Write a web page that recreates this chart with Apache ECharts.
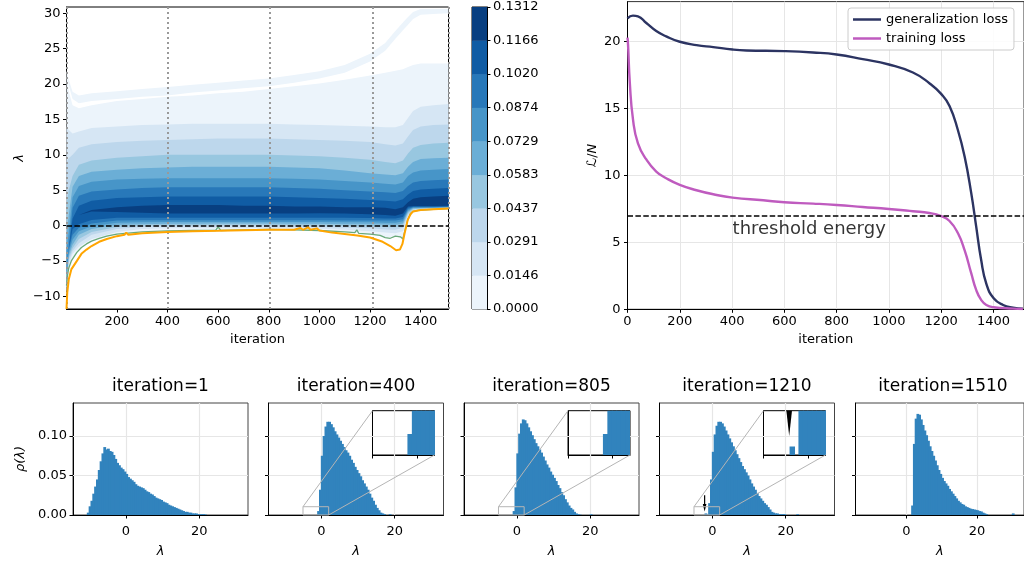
<!DOCTYPE html>
<html>
<head>
<meta charset="utf-8">
<title>spectrum during training</title>
<script src="https://cdn.jsdelivr.net/npm/echarts@6.0.0/dist/echarts.min.js"></script>
<style>
html, body { margin: 0; padding: 0; background: #fff; }
#chart { width: 1024px; height: 563px; }
</style>
</head>
<body>
<div id="chart"></div>
<script>
const FONT = 'DejaVu Sans'

// ---- top left: density of the spectrum vs iteration, as nested contour bands ----
const IT = [1, 10, 25, 50, 100, 200, 300, 400, 500, 600, 700, 800, 900, 1000, 1100, 1200, 1260, 1300, 1330, 1350, 1370, 1400, 1450, 1510]
const LO0 = [-10, -6.0, -4.6, -3.4, -2.2, -1.2, -0.9, -0.75, -0.7, -0.65, -0.6, -0.55, -0.6, -0.7, -0.9, -1.2, -1.7, -1.5, -1.9, 0.9, 2.0, 2.2, 2.3, 2.4]
const HI0 = [22.0, 19.0, 17.0, 16.6, 17.0, 17.6, 17.9, 18.2, 18.4, 18.7, 18.9, 19.3, 19.7, 20.1, 20.6, 21.2, 21.6, 21.9, 22.1, 22.4, 22.7, 22.9, 22.9, 22.9]
const STRIP_LO = [22.0, 19.8, 17.9, 17.3, 17.6, 17.9, 18.2, 18.4, 18.8, 19.1, 19.4, 19.7, 20.2, 20.8, 21.6, 23.2, 24.7, 26.4, 27.6, 28.4, 29.2, 29.8, 29.9, 30.0]
const STRIP_HI = [22.0, 20.6, 18.9, 18.4, 18.7, 19.0, 19.3, 19.6, 19.9, 20.2, 20.5, 20.8, 21.3, 21.8, 22.7, 24.3, 25.8, 27.5, 28.7, 29.5, 30.2, 30.6, 30.6, 30.6]
const LO1 = [-9.5, -5.5, -4.0, -3.0, -1.9, -0.9, -0.5, -0.4, -0.4, -0.4, -0.35, -0.35, -0.4, -0.45, -0.6, -0.8, -1.0, -1.1, -0.8, 1.2, 2.1, 2.3, 2.35, 2.45]
const HI1 = [14.0, 13.5, 13.0, 13.3, 13.8, 14.0, 14.2, 14.3, 14.4, 14.4, 14.4, 14.4, 14.3, 14.2, 14.1, 14.0, 13.9, 13.9, 14.2, 15.2, 16.2, 16.8, 17.0, 17.2]
const LO2 = [-9.0, -5.0, -3.6, -2.5, -1.3, -0.5, -0.2, -0.15, -0.15, -0.1, -0.1, -0.1, -0.15, -0.2, -0.3, -0.4, -0.55, -0.6, -0.3, 1.5, 2.2, 2.35, 2.4, 2.5]
const HI2 = [9.0, 9.5, 10.0, 11.0, 11.5, 11.8, 12.0, 12.1, 12.2, 12.3, 12.3, 12.3, 12.2, 12.1, 12.0, 11.8, 11.5, 11.3, 11.6, 12.6, 13.5, 14.0, 14.2, 14.3]
const LO3 = [-8.5, -4.6, -3.2, -1.9, -0.9, -0.2, 0.0, 0.05, 0.05, 0.1, 0.1, 0.1, 0.05, 0.0, -0.05, -0.1, -0.2, -0.25, 0.0, 1.7, 2.3, 2.4, 2.45, 2.55]
const HI3 = [3.0, 5.0, 7.0, 8.6, 9.2, 9.6, 9.8, 10.0, 10.0, 10.0, 10.0, 10.0, 9.9, 9.8, 9.6, 9.3, 9.0, 8.8, 9.2, 10.2, 11.0, 11.4, 11.6, 11.7]
const LO4 = [-8.0, -4.2, -2.7, -1.3, -0.5, 0.1, 0.2, 0.25, 0.25, 0.3, 0.3, 0.3, 0.25, 0.25, 0.2, 0.2, 0.15, 0.1, 0.3, 1.9, 2.4, 2.45, 2.5, 2.55]
const HI4 = [-1.5, 1.5, 5.5, 7.0, 7.6, 7.9, 8.1, 8.2, 8.3, 8.3, 8.3, 8.3, 8.2, 8.1, 7.8, 7.4, 7.2, 7.1, 7.4, 8.3, 9.0, 9.4, 9.5, 9.6]
const LO5 = [-7.0, -3.8, -2.0, -0.8, -0.1, 0.4, 0.45, 0.5, 0.5, 0.5, 0.5, 0.5, 0.5, 0.5, 0.45, 0.45, 0.4, 0.4, 0.6, 2.1, 2.5, 2.5, 2.55, 2.6]
const HI5 = [-3.5, -1.0, 4.0, 5.6, 6.2, 6.5, 6.6, 6.7, 6.7, 6.7, 6.7, 6.7, 6.6, 6.5, 6.3, 6.1, 5.9, 5.8, 6.1, 7.0, 7.5, 7.8, 7.9, 8.0]
const LO6 = [-5.5, -3.4, -1.3, -0.3, 0.3, 0.7, 0.75, 0.75, 0.75, 0.75, 0.75, 0.75, 0.75, 0.75, 0.7, 0.7, 0.7, 0.7, 0.9, 2.3, 2.6, 2.6, 2.6, 2.65]
const HI6 = [-5.5, -3.0, 2.5, 4.2, 4.8, 5.1, 5.3, 5.4, 5.4, 5.4, 5.4, 5.4, 5.3, 5.2, 5.0, 4.8, 4.7, 4.6, 4.9, 5.6, 6.1, 6.3, 6.4, 6.5]
const LO7 = [-5.5, -3.2, -0.5, 0.2, 0.8, 1.1, 1.1, 1.1, 1.1, 1.1, 1.1, 1.1, 1.1, 1.1, 1.1, 1.05, 1.0, 1.0, 1.2, 2.5, 2.65, 2.65, 2.65, 2.7]
const HI7 = [-5.5, -3.2, 1.0, 2.8, 3.5, 3.9, 4.0, 4.1, 4.1, 4.1, 4.1, 4.1, 4.0, 3.9, 3.8, 3.6, 3.5, 3.4, 3.7, 4.4, 4.9, 5.1, 5.2, 5.3]
const LO8 = [-5.5, -3.2, 0.0, 1.5, 2.0, 1.9, 1.8, 1.7, 1.7, 1.7, 1.7, 1.7, 1.7, 1.75, 1.7, 1.6, 1.5, 1.4, 1.7, 2.7, 2.75, 2.75, 2.75, 2.8]
const HI8 = [-5.5, -3.2, 0.0, 1.5, 2.2, 2.6, 2.8, 2.9, 2.9, 2.9, 2.8, 2.8, 2.7, 2.7, 2.6, 2.6, 2.5, 2.3, 2.6, 3.3, 3.8, 4.0, 4.1, 4.2]

const ORANGE_IT = [1, 4, 10, 20, 42, 60, 80, 100, 130, 160, 200, 230, 237, 245, 300, 400, 500, 600, 700, 800, 900, 925, 935, 955, 965, 990, 1000, 1050, 1100, 1150, 1200, 1250, 1280, 1303, 1318, 1328, 1336, 1349, 1360, 1370, 1400, 1450, 1510]
const ORANGE = [-11.8, -9.5, -7.6, -6.2, -5.0, -4.0, -3.4, -2.9, -2.3, -1.9, -1.5, -1.3, -1.0, -1.3, -1.1, -0.9, -0.8, -0.75, -0.65, -0.6, -0.6, -0.35, -0.6, -0.25, -0.6, -0.4, -0.7, -1.0, -1.2, -1.4, -1.7, -2.3, -2.9, -3.5, -3.4, -2.6, -1.2, 0.8, 1.6, 2.0, 2.2, 2.3, 2.4]
const GREEN_IT = [1, 5, 10, 20, 42, 60, 80, 100, 130, 160, 200, 300, 400, 500, 590, 600, 610, 700, 800, 900, 1000, 1100, 1140, 1148, 1155, 1200, 1240, 1260, 1280, 1300, 1320, 1330, 1336, 1349, 1360, 1370, 1400, 1450, 1510]
const GREEN = [-8.5, -7.0, -6.0, -5.0, -3.8, -3.1, -2.6, -2.2, -1.8, -1.5, -1.2, -0.9, -0.75, -0.7, -0.7, -0.2, -0.7, -0.6, -0.55, -0.6, -0.7, -0.9, -1.0, -0.6, -1.1, -1.2, -1.4, -1.7, -1.8, -1.5, -1.6, -1.9, -1.0, 0.8, 1.7, 2.0, 2.2, 2.3, 2.4]
const MARK_IT = [1, 400, 805, 1210, 1510]
const CONTOUR_X_TICKS = [200, 400, 600, 800, 1000, 1200, 1400]
const CONTOUR_Y_TICKS = [-10, -5, 0, 5, 10, 15, 20, 25, 30]

const CBAR_TICKS = ['0.0000', '0.0146', '0.0291', '0.0437', '0.0583', '0.0729', '0.0874', '0.1020', '0.1166', '0.1312']
const BAND_COLORS = ['#ecf4fb', '#d6e6f4', '#bdd7ec', '#98c7e0', '#6baed6', '#4795c8', '#2878b9', '#105ca4', '#083f81']

// ---- top right: losses ----
const GEN_IT = [0, 21, 40, 72, 110, 148, 200, 264, 328, 402, 455, 600, 710, 800, 900, 1000, 1092, 1155, 1200, 1232, 1264, 1290, 1315, 1334, 1353, 1373, 1401, 1437, 1475, 1513]
const GEN_LOSS = [21.75, 21.95, 21.9, 21.4, 20.8, 20.4, 20.0, 19.75, 19.6, 19.42, 19.35, 19.3, 19.2, 19.05, 18.7, 18.3, 17.7, 16.9, 16.1, 15.2, 13.4, 11.4, 8.7, 6.2, 3.7, 1.9, 0.82, 0.32, 0.12, 0.05]
const TRAIN_IT = [0, 2, 9, 21, 40, 72, 110, 148, 200, 264, 328, 402, 519, 600, 710, 800, 900, 1000, 1092, 1155, 1200, 1232, 1264, 1290, 1315, 1334, 1353, 1373, 1401, 1475, 1513]
const TRAIN_LOSS = [20.3, 19.8, 16.9, 14.2, 12.4, 11.2, 10.3, 9.8, 9.3, 8.9, 8.6, 8.35, 8.15, 8.0, 7.9, 7.8, 7.65, 7.5, 7.33, 7.2, 6.97, 6.6, 5.7, 4.4, 2.7, 1.45, 0.7, 0.32, 0.15, 0.05, 0.02]
const THRESHOLD = 7
const THRESHOLD_TEXT_AT = [402, 6.0]
const LOSS_X_TICKS = [0, 200, 400, 600, 800, 1000, 1200, 1400]
const LOSS_Y_TICKS = [0, 5, 10, 15, 20]

// ---- bottom: histograms of the spectrum ----
const BIN_W = 0.5
const HIST_TITLES = ['iteration=1', 'iteration=400', 'iteration=805', 'iteration=1210', 'iteration=1510']
const H1_START = -10.5
const H1 = [0.003, 0.011, 0.018, 0.027, 0.036, 0.045, 0.057, 0.068, 0.078, 0.086,
  0.083, 0.084, 0.081, 0.080, 0.076, 0.071, 0.066, 0.063, 0.060, 0.058,
  0.055, 0.052, 0.048, 0.046, 0.044, 0.042, 0.039, 0.037, 0.036, 0.035,
  0.034, 0.032, 0.030, 0.029, 0.027, 0.026, 0.024, 0.022, 0.021, 0.020,
  0.019, 0.017, 0.016, 0.015, 0.013, 0.012, 0.011, 0.010, 0.009, 0.008,
  0.007, 0.006, 0.005, 0.004, 0.004, 0.003, 0.003, 0.002, 0.002, 0.002,
  0.001, 0.001, 0.001, 0.001, 0.0005]
const H2_START = -1.0
const H2 = [0.005, 0.032, 0.075, 0.100, 0.112, 0.118, 0.118, 0.115, 0.111, 0.106,
  0.102, 0.098, 0.094, 0.090, 0.086, 0.082, 0.079, 0.075, 0.070, 0.066,
  0.061, 0.057, 0.053, 0.049, 0.044, 0.040, 0.036, 0.032, 0.027, 0.022,
  0.018, 0.013, 0.009, 0.006, 0.003, 0.002, 0.001, 0, 0, 0.001]
const H3_START = -1.0
const H3 = [0.005, 0.035, 0.078, 0.103, 0.116, 0.121, 0.120, 0.116, 0.111, 0.106,
  0.101, 0.096, 0.091, 0.087, 0.083, 0.079, 0.074, 0.069, 0.064, 0.060,
  0.055, 0.051, 0.047, 0.043, 0.038, 0.034, 0.029, 0.025, 0.020, 0.016,
  0.012, 0.009, 0.007, 0.004, 0.002, 0.001, 0.0005, 0, 0, 0,
  0, 0, 0.001]
const H4_START = -2.0
const H4 = [0.002, 0, 0.015, 0.045, 0.080, 0.102, 0.113, 0.118, 0.118, 0.116,
  0.112, 0.107, 0.102, 0.097, 0.092, 0.087, 0.082, 0.077, 0.072, 0.067,
  0.062, 0.058, 0.054, 0.050, 0.045, 0.040, 0.036, 0.032, 0.028, 0.024,
  0.021, 0.018, 0.015, 0.013, 0.010, 0.007, 0.004, 0.003, 0.002, 0.002,
  0.001, 0.001, 0.001, 0.001, 0, 0, 0, 0, 0, 0,
  0.001]
const H5_START = 1.5
const H5 = [0.012, 0.090, 0.122, 0.128, 0.127, 0.121, 0.114, 0.107, 0.101, 0.094,
  0.087, 0.081, 0.075, 0.069, 0.063, 0.057, 0.052, 0.047, 0.043, 0.040,
  0.037, 0.033, 0.030, 0.027, 0.024, 0.021, 0.018, 0.016, 0.014, 0.013,
  0.011, 0.010, 0.009, 0.008, 0.0075, 0.007, 0.0065, 0.006, 0.005, 0.0045,
  0.003, 0.002, 0.001, 0, 0, 0, 0, 0, 0, 0,
  0, 0, 0, 0, 0, 0, 0, 0.002]
const HIST_GRID_X = [0, 20]
const HIST_GRID_Y = [0.05, 0.1]
const HIST_Y_TICKS = [0, 0.05, 0.1]
const INSET_X_TICKS = [-5, 0]
const INSET_RANGE_X = [-5, 2]
const INSET_RANGE_Y = [0, 0.0105]
const ARROW_LAMBDA = -2.1
const ARROW_FROM = 0.025
const ARROW_TO = 0.0045
const ARROW_HEAD_W = 1.0
const ARROW_HEAD_L = 0.0095

// ---------------------------------------------------------------
const BAR_COLOR = '#3183bd'
const HIST_LEFT = [73, 268.5, 464, 659.5, 855.5]
const INSET_OF = [null, 0, 1, 2, null]   // which inset grid belongs to each histogram
const hists = [[H1_START, H1], [H2_START, H2], [H3_START, H3], [H4_START, H4], [H5_START, H5]]

const txt = (size) => ({ fontFamily: FONT, fontSize: size || 13, color: '#000' })
const plain = (v) => String(v).replace('-', '\u2212')

const grid = [
  { left: 66.5, top: 7, width: 382, height: 302, show: true, borderColor: '#000', borderWidth: 1, backgroundColor: 'transparent' },
  { left: 472, top: 7, width: 15, height: 302, show: true, borderColor: '#000', borderWidth: 1, backgroundColor: 'transparent' },
  { left: 627.5, top: 1.6, width: 397, height: 307.7, show: true, borderColor: '#333', borderWidth: 1, backgroundColor: 'transparent' }
]
HIST_LEFT.forEach(l => grid.push({ left: l, top: 403, width: 175, height: 112, show: true, borderColor: '#444', borderWidth: 1, backgroundColor: 'transparent' }))
;[1, 2, 3].forEach(i => grid.push({ left: HIST_LEFT[i] + 104, top: 410.7, width: 62, height: 44.3, show: true, borderColor: '#000', borderWidth: 1, backgroundColor: '#fff' }))

const blackLine = { show: true, onZero: false, lineStyle: { color: '#000', width: 1 } }
const tick = (vals) => ({ show: true, length: 3.5, lineStyle: { color: '#000' }, customValues: vals })

const xAxis = [
  { gridIndex: 0, type: 'value', min: 1, max: 1510, axisLine: blackLine, axisTick: tick(CONTOUR_X_TICKS),
    axisLabel: Object.assign({ customValues: CONTOUR_X_TICKS, margin: 6, formatter: plain }, txt()), splitLine: { show: false },
    name: 'iteration', nameLocation: 'middle', nameGap: 24, nameTextStyle: txt() },
  { gridIndex: 1, type: 'value', min: 0, max: 1, show: false },
  { gridIndex: 2, type: 'value', min: 0, max: 1517, interval: 200, axisLine: blackLine, axisTick: tick(LOSS_X_TICKS),
    axisLabel: Object.assign({ customValues: LOSS_X_TICKS, margin: 6, formatter: plain }, txt()),
    splitLine: { show: true, lineStyle: { color: '#e6e6e6', width: 1 } },
    name: 'iteration', nameLocation: 'middle', nameGap: 24, nameTextStyle: txt() }
]
const yAxis = [
  { gridIndex: 0, type: 'value', min: -11.8, max: 30.9, axisLine: blackLine, axisTick: tick(CONTOUR_Y_TICKS),
    axisLabel: Object.assign({ customValues: CONTOUR_Y_TICKS, margin: 6, formatter: plain }, txt()), splitLine: { show: false },
    name: 'λ', nameLocation: 'middle', nameGap: 40, nameRotate: 90, nameTextStyle: Object.assign({ fontStyle: 'italic' }, txt()) },
  { gridIndex: 1, type: 'value', position: 'right', min: 0, max: 9, interval: 1, axisLine: blackLine,
    axisTick: { show: true, length: 3.5, lineStyle: { color: '#000' } },
    axisLabel: Object.assign({ margin: 6, formatter: (v) => CBAR_TICKS[v] }, txt()), splitLine: { show: false } },
  { gridIndex: 2, type: 'value', min: 0, max: 23, interval: 5, axisLine: blackLine, axisTick: tick(LOSS_Y_TICKS),
    axisLabel: Object.assign({ customValues: LOSS_Y_TICKS, margin: 7, formatter: plain }, txt()),
    splitLine: { show: true, lineStyle: { color: '#e6e6e6', width: 1 } },
    name: '{s|ℒ}/{i|N}', nameLocation: 'middle', nameGap: 28, nameRotate: 90,
    nameTextStyle: Object.assign({ rich: { s: txt(), i: Object.assign({ fontStyle: 'italic' }, txt()) } }, txt()) }
]
HIST_LEFT.forEach((l, i) => {
  const g = 3 + i
  xAxis.push({ gridIndex: g, type: 'value', min: -14.4, max: 33.3, axisLine: blackLine, axisTick: tick(HIST_GRID_X),
    axisLabel: Object.assign({ customValues: HIST_GRID_X, margin: 10, formatter: plain }, txt()), splitLine: { show: false },
    name: 'λ', nameLocation: 'middle', nameGap: 30, nameTextStyle: Object.assign({ fontStyle: 'italic' }, txt()) })
  const y = { gridIndex: g, type: 'value', min: 0, max: 0.1418, axisLine: blackLine, axisTick: tick(HIST_Y_TICKS),
    axisLabel: Object.assign({ show: i === 0, customValues: HIST_Y_TICKS, margin: 6, formatter: (v) => v.toFixed(2) }, txt()),
    splitLine: { show: false } }
  if (i === 0) Object.assign(y, { name: 'ρ(λ)', nameLocation: 'middle', nameGap: 46, nameRotate: 90, nameTextStyle: Object.assign({ fontStyle: 'italic' }, txt()) })
  yAxis.push(y)
})
;[0, 1, 2].forEach(j => {
  const g = 8 + j
  xAxis.push({ gridIndex: g, type: 'value', min: INSET_RANGE_X[0], max: INSET_RANGE_X[1], axisLine: blackLine,
    axisTick: tick(INSET_X_TICKS), axisLabel: { show: false }, splitLine: { show: false } })
  yAxis.push({ gridIndex: g, type: 'value', min: INSET_RANGE_Y[0], max: INSET_RANGE_Y[1], axisLine: blackLine,
    axisTick: { show: false }, axisLabel: { show: false }, splitLine: { show: false } })
})

// ---- series ----
function bandSeries(lo, hi, color) {
  return {
    type: 'custom', xAxisIndex: 0, yAxisIndex: 0, clip: true, silent: true, z: 2,
    data: IT.map((t, i) => [t, lo[i], hi[i]]),
    renderItem: (params, api) => {
      if (params.dataIndex !== 0) return null
      const pts = []
      for (let i = 0; i < IT.length; i++) pts.push(api.coord([IT[i], hi[i]]))
      for (let i = IT.length - 1; i >= 0; i--) pts.push(api.coord([IT[i], lo[i]]))
      return { type: 'polygon', shape: { points: pts }, style: { fill: color } }
    }
  }
}

const series = []
const LOS = [LO0, LO1, LO2, LO3, LO4, LO5, LO6, LO7, LO8]
const HIS = [HI0, HI1, HI2, HI3, HI4, HI5, HI6, HI7, HI8]
series.push(bandSeries(STRIP_LO, STRIP_HI, BAND_COLORS[0]))
LOS.forEach((lo, k) => series.push(bandSeries(lo, HIS[k], BAND_COLORS[k])))

series.push({ type: 'line', xAxisIndex: 0, yAxisIndex: 0, silent: true, z: 4, showSymbol: false,
  data: GREEN_IT.map((t, i) => [t, GREEN[i]]), lineStyle: { color: '#6aa97a', width: 1.3 } })
series.push({ type: 'line', xAxisIndex: 0, yAxisIndex: 0, silent: true, z: 5, showSymbol: false,
  data: ORANGE_IT.map((t, i) => [t, ORANGE[i]]), lineStyle: { color: '#ffa500', width: 2 } })
series.push({ type: 'line', xAxisIndex: 0, yAxisIndex: 0, silent: true, z: 6, data: [],
  markLine: { silent: true, symbol: 'none', label: { show: false }, animation: false,
    data: MARK_IT.map(v => ({ xAxis: v, lineStyle: { color: '#999', width: 2, type: [2, 3] } }))
      .concat([{ yAxis: 0, lineStyle: { color: '#000', width: 1.5, type: [5.5, 2.4] } }]) } })

// colour bar
series.push({ type: 'custom', xAxisIndex: 1, yAxisIndex: 1, silent: true,
  data: BAND_COLORS.map((c, i) => [i]),
  renderItem: (params, api) => {
    const i = api.value(0)
    const a = api.coord([0, i + 1]), b = api.coord([1, i])
    return { type: 'rect', shape: { x: a[0], y: a[1], width: b[0] - a[0], height: b[1] - a[1] + 0.3 }, style: { fill: BAND_COLORS[i] } }
  } })

// losses
series.push({ type: 'line', name: 'generalization loss', xAxisIndex: 2, yAxisIndex: 2, showSymbol: false, smooth: 0.5,
  data: GEN_IT.map((t, i) => [t, GEN_LOSS[i]]), lineStyle: { color: '#2c3462', width: 2.4 }, itemStyle: { color: '#2c3462' }, z: 3 })
series.push({ type: 'line', name: 'training loss', xAxisIndex: 2, yAxisIndex: 2, showSymbol: false, smooth: 0.5,
  data: TRAIN_IT.map((t, i) => [t, TRAIN_LOSS[i]]), lineStyle: { color: '#bf5bbf', width: 2.4 }, itemStyle: { color: '#bf5bbf' }, z: 3 })
series.push({ type: 'scatter', xAxisIndex: 2, yAxisIndex: 2, silent: true, symbolSize: 0, z: 5,
  data: [THRESHOLD_TEXT_AT],
  label: Object.assign({ show: true, position: 'right', distance: 0, formatter: 'threshold energy' }, txt(18)),
  markLine: { silent: true, symbol: 'none', label: { show: false },
    data: [{ yAxis: THRESHOLD, lineStyle: { color: '#000', width: 1.5, type: [5.5, 2.4] } }] } })

// histograms
function histSeries(g, start, vals) {
  return { type: 'custom', xAxisIndex: g, yAxisIndex: g, clip: true, silent: true, z: 3,
    data: vals.map((v, i) => [start + i * BIN_W, v]),
    renderItem: (params, api) => {
      const x0 = api.value(0), h = api.value(1)
      if (!h) return null
      const a = api.coord([x0, h]), b = api.coord([x0 + BIN_W, 0])
      return { type: 'rect', shape: { x: a[0] - 0.5, y: a[1], width: b[0] - a[0] + 1, height: b[1] - a[1] }, style: { fill: BAR_COLOR } }
    } }
}
function arrowSeries(g) {
  return { type: 'custom', xAxisIndex: g, yAxisIndex: g, clip: true, silent: true, z: 5,
    data: [[ARROW_LAMBDA, ARROW_FROM, ARROW_TO]],
    renderItem: (params, api) => {
      const x = api.value(0), y0 = api.value(1), y1 = api.value(2)
      const top = api.coord([x, y0]), base = api.coord([x, y1 + ARROW_HEAD_L]), tip = api.coord([x, y1])
      const bl = api.coord([x - ARROW_HEAD_W / 2, y1 + ARROW_HEAD_L]), br = api.coord([x + ARROW_HEAD_W / 2, y1 + ARROW_HEAD_L])
      return { type: 'group', children: [
        { type: 'line', shape: { x1: top[0], y1: top[1], x2: base[0], y2: base[1] }, style: { stroke: '#000', lineWidth: 1.2 } },
        { type: 'polygon', shape: { points: [bl, br, tip] }, style: { fill: '#000' } }
      ] }
    } }
}
hists.forEach(([start, vals], i) => {
  const g = 3 + i
  series.push({ type: 'line', xAxisIndex: g, yAxisIndex: g, silent: true, z: 1, data: [],
    markLine: { silent: true, symbol: 'none', label: { show: false }, z: 1,
      lineStyle: { color: '#e6e6e6', width: 1.2, type: 'solid' },
      data: HIST_GRID_X.map(v => ({ xAxis: v })).concat(HIST_GRID_Y.map(v => ({ yAxis: v }))) } })
  series.push(histSeries(g, start, vals))
  if (INSET_OF[i] !== null) series.push(histSeries(8 + INSET_OF[i], start, vals))
})
series.push(arrowSeries(6))
series.push(arrowSeries(10))

const chart = echarts.init(document.getElementById('chart'))
chart.setOption({
  animation: false,
  backgroundColor: '#fff',
  textStyle: { fontFamily: FONT },
  title: HIST_TITLES.map((t, i) => ({ text: t, left: HIST_LEFT[i] + 87.5, top: 378, textAlign: 'center', padding: 0,
    textStyle: { fontFamily: FONT, fontSize: 17, fontWeight: 'normal', color: '#000' } })),
  legend: { data: ['generalization loss', 'training loss'], orient: 'vertical', left: 848, top: 8,
    icon: 'rect', itemWidth: 28, itemHeight: 2.5, itemGap: 4, padding: [4, 6, 4, 5],
    backgroundColor: 'rgba(255,255,255,0.85)', borderColor: '#cccccc', borderWidth: 1, borderRadius: 3,
    textStyle: Object.assign({ lineHeight: 15 }, txt()) },
  grid, xAxis, yAxis, series
})

// zoom boxes and connectors for the insets
const graphic = []
;[1, 2, 3].forEach((i, j) => {
  const mTL = chart.convertToPixel({ gridIndex: 3 + i }, [INSET_RANGE_X[0], INSET_RANGE_Y[1]])
  const mBR = chart.convertToPixel({ gridIndex: 3 + i }, [INSET_RANGE_X[1], INSET_RANGE_Y[0]])
  const iTL = chart.convertToPixel({ gridIndex: 8 + j }, [INSET_RANGE_X[0], INSET_RANGE_Y[1]])
  const iBR = chart.convertToPixel({ gridIndex: 8 + j }, [INSET_RANGE_X[1], INSET_RANGE_Y[0]])
  const st = { stroke: '#b5b5b5', lineWidth: 1, fill: null }
  graphic.push({ type: 'rect', z: 50, silent: true, shape: { x: mTL[0], y: mTL[1], width: mBR[0] - mTL[0], height: mBR[1] - mTL[1] }, style: st })
  graphic.push({ type: 'line', z: 50, silent: true, shape: { x1: mTL[0], y1: mTL[1], x2: iTL[0], y2: iTL[1] }, style: st })
  graphic.push({ type: 'line', z: 50, silent: true, shape: { x1: mBR[0], y1: mBR[1], x2: iBR[0], y2: iBR[1] }, style: st })
})
chart.setOption({ graphic })
</script>
</body>
</html>
